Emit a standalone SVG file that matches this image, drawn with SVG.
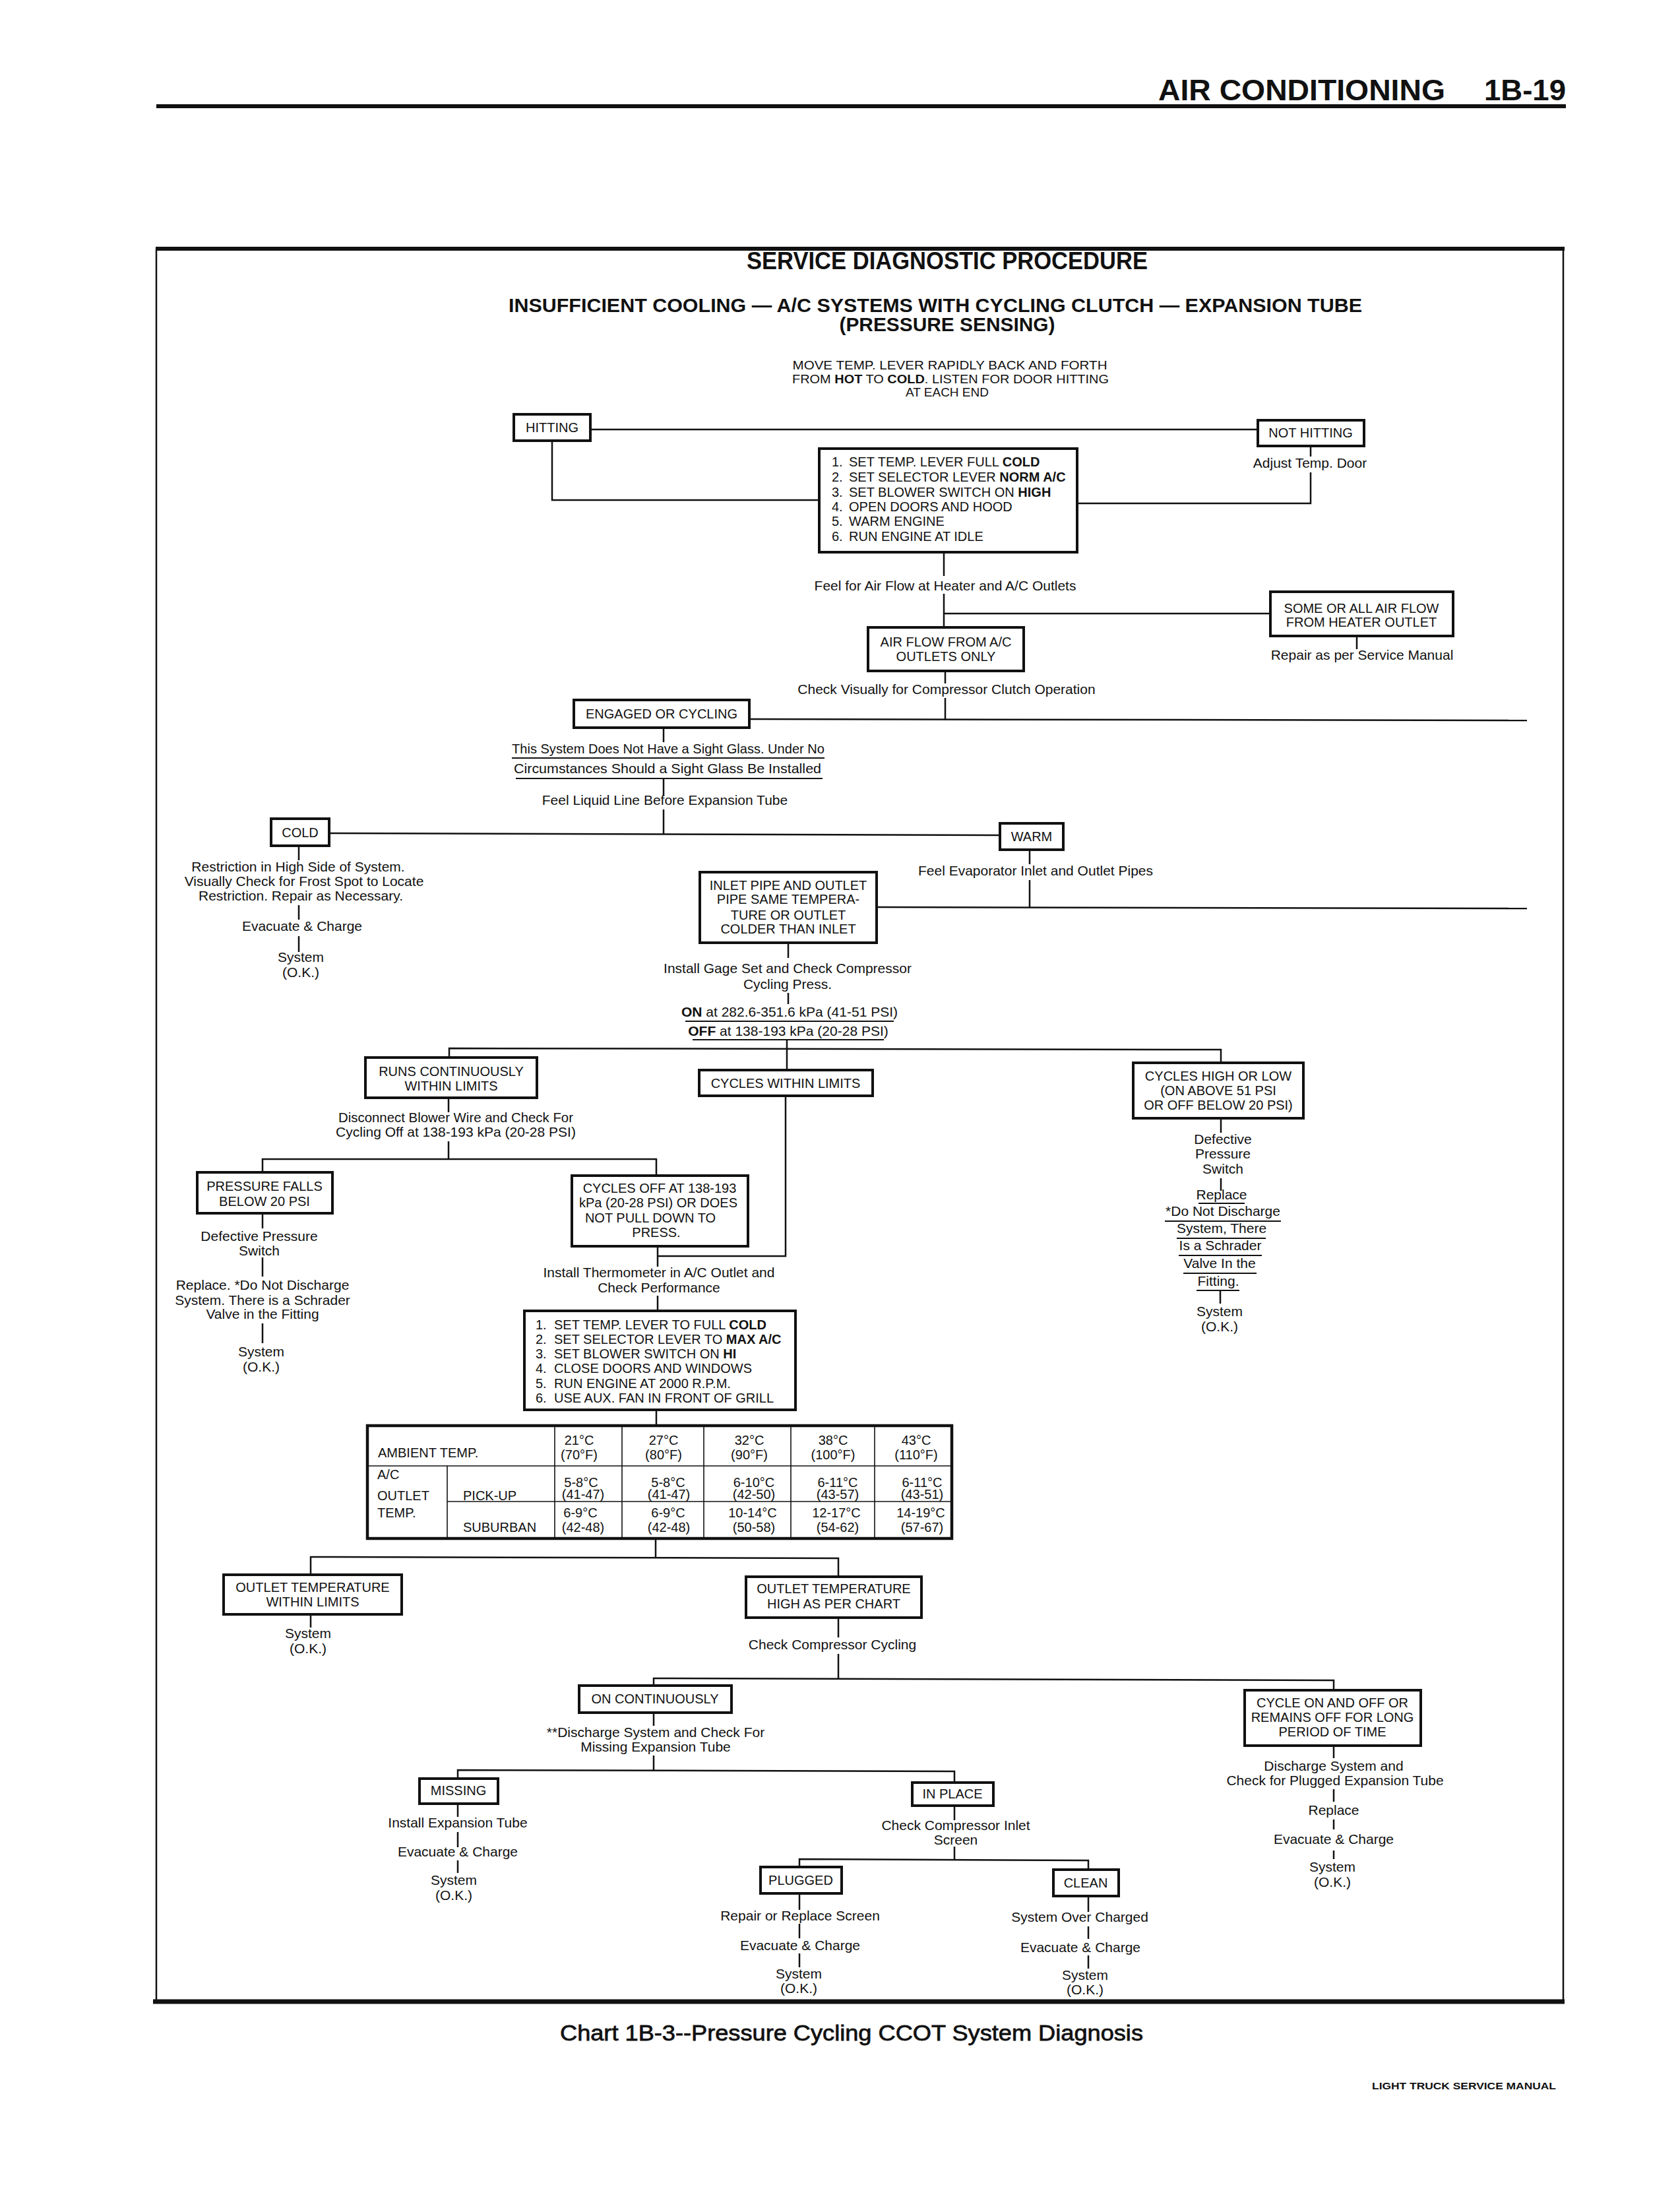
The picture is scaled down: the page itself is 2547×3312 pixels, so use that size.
<svg xmlns="http://www.w3.org/2000/svg" width="2547" height="3312" viewBox="0 0 2547 3312">
<style>
text{font-family:"Liberation Sans",Arial,Helvetica,sans-serif;fill:#111}
.t{font-size:21px;text-anchor:middle}
.b{font-size:20px;text-anchor:middle}
.bl{font-size:20px}
.tb{font-size:20px}
.box{fill:#fff;stroke:#111;stroke-width:4}
.c{stroke:#111;stroke-width:2.5;fill:none}
.u{stroke:#111;stroke-width:2;fill:none}
.g{stroke:#111;stroke-width:1.6;fill:none}
.bold{font-weight:bold}
</style>
<rect x="0" y="0" width="2547" height="3312" fill="#fff"/>

<g id="page-header">
<text x="1756" y="152" font-size="44" font-weight="bold" textLength="435" lengthAdjust="spacingAndGlyphs">AIR CONDITIONING</text>
<text x="2250" y="152" font-size="44" font-weight="bold" textLength="124" lengthAdjust="spacingAndGlyphs">1B-19</text>
<line x1="237" y1="161" x2="2374" y2="161" stroke="#111" stroke-width="6"/>
</g>

<g id="frame">
<line x1="236" y1="377" x2="2372" y2="377" stroke="#111" stroke-width="6"/>
<line x1="237" y1="377" x2="237" y2="3034" stroke="#111" stroke-width="2.5"/>
<line x1="2370" y1="377" x2="2370" y2="3034" stroke="#111" stroke-width="2.5"/>
<line x1="232" y1="3034" x2="2372" y2="3034" stroke="#111" stroke-width="7"/>
</g>

<g id="titles">
<text x="1436" y="408" font-size="36" font-weight="bold" text-anchor="middle" textLength="608" lengthAdjust="spacingAndGlyphs">SERVICE DIAGNOSTIC PROCEDURE</text>
<text x="1418" y="473" font-size="29" font-weight="bold" text-anchor="middle" textLength="1294" lengthAdjust="spacingAndGlyphs">INSUFFICIENT COOLING — A/C SYSTEMS WITH CYCLING CLUTCH — EXPANSION TUBE</text>
<text x="1436" y="502" font-size="29" font-weight="bold" text-anchor="middle" textLength="327" lengthAdjust="spacingAndGlyphs">(PRESSURE SENSING)</text>
</g>

<g id="start">
<text x="1440" y="560" font-size="19" text-anchor="middle" textLength="477" lengthAdjust="spacingAndGlyphs">MOVE TEMP. LEVER RAPIDLY BACK AND FORTH</text>
<text x="1441" y="581" font-size="19" text-anchor="middle" textLength="480" lengthAdjust="spacingAndGlyphs">FROM <tspan class="bold">HOT</tspan> TO <tspan class="bold">COLD</tspan>. LISTEN FOR DOOR HITTING</text>
<text x="1436" y="601" font-size="19" text-anchor="middle">AT EACH END</text>
</g>

<g id="connectors">
<path class="c" d="M895 651 H1907"/>
<path class="c" d="M837 668 V758 H1242"/>
<path class="c" d="M1987 676 V692 M1987 716 V763 H1633"/>
<path class="c" d="M1431 837 V873 M1431 900 V951 M1431 930 H1926"/>
<path class="c" d="M2057 964 V984"/>
<path class="c" d="M1433 1017 V1036 M1433 1058 V1091"/>
<path class="c" d="M1136 1090 L2315 1092"/>
<path class="c" d="M1006 1103 V1125 M1006 1181 V1206 M1006 1227 V1264"/>
<path class="c" d="M499 1263 L1516 1266"/>
<path class="c" d="M453 1282 V1304 M453 1372 V1394 M453 1419 V1443"/>
<path class="c" d="M1561 1288 V1310 M1561 1334 V1375"/>
<path class="c" d="M1329 1375 L2315 1377"/>
<path class="c" d="M1195 1429 V1452 M1195 1505 V1522"/>
<path class="c" d="M1193 1577 V1622"/>
<path class="c" d="M681 1603 V1589 L1851 1591 V1611"/>
<path class="c" d="M680 1664 V1686 M680 1730 V1757"/>
<path class="c" d="M398 1777 V1757 H995 V1782"/>
<path class="c" d="M1191 1661 V1904 H997"/>
<path class="c" d="M997 1889 V1920 M997 1964 V1987"/>
<path class="c" d="M398 1839 V1862 M398 1906 V1935 M398 2006 V2036"/>
<path class="c" d="M1851 1695 V1717 M1851 1786 V1805 M1850 1957 V1976"/>
<path class="c" d="M995 2137 V2161"/>
<path class="c" d="M994 2332 V2360"/>
<path class="c" d="M471 2387 V2360 L1271 2362 V2390"/>
<path class="c" d="M471 2447 V2467"/>
<path class="c" d="M1271 2452 V2482 M1271 2507 V2544"/>
<path class="c" d="M991 2555 V2544 L2022 2547 V2562"/>
<path class="c" d="M991 2596 V2616 M991 2661 V2683"/>
<path class="c" d="M694 2696 V2683 L1447 2685 V2702"/>
<path class="c" d="M694 2734 V2754 M694 2777 V2800 M694 2820 V2839"/>
<path class="c" d="M1447 2737 V2759 M1447 2799 V2818"/>
<path class="c" d="M1212 2830 V2818 L1650 2820 V2834"/>
<path class="c" d="M1212 2870 V2895 M1212 2916 V2938 M1212 2961 V2982"/>
<path class="c" d="M1650 2874 V2898 M1650 2920 V2939 M1650 2964 V2984"/>
<path class="c" d="M2022 2646 V2665 M2022 2712 V2731 M2022 2758 V2773 M2022 2805 V2818"/>
</g>

<g id="n-hitting"><rect class="box" x="779" y="628" width="116" height="40"/><text class="b" x="837" y="655">HITTING</text></g>
<g id="n-not-hitting"><rect class="box" x="1907" y="637" width="161" height="39"/><text class="b" x="1987" y="663">NOT HITTING</text></g>
<g id="n-adjust"><text class="t" x="1986" y="709">Adjust Temp. Door</text></g>

<g id="n-steps1">
<rect class="box" x="1242" y="680" width="391" height="157"/>
<text class="bl" x="1261" y="707">1.</text><text class="bl" x="1287" y="707">SET TEMP. LEVER FULL <tspan class="bold">COLD</tspan></text>
<text class="bl" x="1261" y="730">2.</text><text class="bl" x="1287" y="730">SET SELECTOR LEVER <tspan class="bold">NORM A/C</tspan></text>
<text class="bl" x="1261" y="753">3.</text><text class="bl" x="1287" y="753">SET BLOWER SWITCH ON <tspan class="bold">HIGH</tspan></text>
<text class="bl" x="1261" y="775">4.</text><text class="bl" x="1287" y="775">OPEN DOORS AND HOOD</text>
<text class="bl" x="1261" y="797">5.</text><text class="bl" x="1287" y="797">WARM ENGINE</text>
<text class="bl" x="1261" y="820">6.</text><text class="bl" x="1287" y="820">RUN ENGINE AT IDLE</text>
</g>

<g id="n-feel-airflow"><text class="t" x="1433" y="895">Feel for Air Flow at Heater and A/C Outlets</text></g>
<g id="n-some-air"><rect class="box" x="1926" y="897" width="277" height="67"/><text class="b" x="2064" y="929">SOME OR ALL AIR FLOW</text><text class="b" x="2064" y="950">FROM HEATER OUTLET</text></g>
<g id="n-repair-manual"><text class="t" x="2065" y="1000">Repair as per Service Manual</text></g>
<g id="n-airflow-ac"><rect class="box" x="1316" y="951" width="236" height="66"/><text class="b" x="1434" y="980">AIR FLOW FROM A/C</text><text class="b" x="1434" y="1002">OUTLETS ONLY</text></g>
<g id="n-check-clutch"><text class="t" x="1435" y="1052">Check Visually for Compressor Clutch Operation</text></g>
<g id="n-engaged"><rect class="box" x="870" y="1061" width="266" height="42"/><text class="b" x="1003" y="1089">ENGAGED OR CYCLING</text></g>

<g id="n-sight-glass">
<text class="t" x="1013" y="1142" textLength="474" lengthAdjust="spacingAndGlyphs">This System Does Not Have a Sight Glass. Under No</text>
<line class="u" x1="776" y1="1149" x2="1250" y2="1149"/>
<text class="t" x="1012" y="1172" textLength="466" lengthAdjust="spacingAndGlyphs">Circumstances Should a Sight Glass Be Installed</text>
<line class="u" x1="782" y1="1180" x2="1247" y2="1180"/>
</g>
<g id="n-feel-liquid"><text class="t" x="1008" y="1220">Feel Liquid Line Before Expansion Tube</text></g>

<g id="n-cold"><rect class="box" x="411" y="1241" width="88" height="41"/><text class="b" x="455" y="1269">COLD</text></g>
<g id="n-warm"><rect class="box" x="1516" y="1248" width="96" height="40"/><text class="b" x="1564" y="1275">WARM</text></g>

<g id="n-restriction">
<text class="t" x="452" y="1321">Restriction in High Side of System.</text>
<text class="t" x="461" y="1343">Visually Check for Frost Spot to Locate</text>
<text class="t" x="456" y="1365">Restriction. Repair as Necessary.</text>
<text class="t" x="458" y="1411">Evacuate &amp; Charge</text>
<text class="t" x="456" y="1458">System</text>
<text class="t" x="456" y="1481">(O.K.)</text>
</g>

<g id="n-feel-evap"><text class="t" x="1570" y="1327">Feel Evaporator Inlet and Outlet Pipes</text></g>
<g id="n-inlet-pipe"><rect class="box" x="1061" y="1322" width="268" height="107"/>
<text class="b" x="1195" y="1349">INLET PIPE AND OUTLET</text>
<text class="b" x="1195" y="1370">PIPE SAME TEMPERA-</text>
<text class="b" x="1195" y="1394">TURE OR OUTLET</text>
<text class="b" x="1195" y="1415">COLDER THAN INLET</text></g>

<g id="n-gage">
<text class="t" x="1194" y="1475">Install Gage Set and Check Compressor</text>
<text class="t" x="1194" y="1499">Cycling Press.</text>
<text class="t" x="1197" y="1541"><tspan class="bold">ON</tspan> at 282.6-351.6 kPa (41-51 PSI)</text>
<line class="u" x1="1039" y1="1548" x2="1355" y2="1548"/>
<text class="t" x="1195" y="1570"><tspan class="bold">OFF</tspan> at 138-193 kPa (20-28 PSI)</text>
<line class="u" x1="1050" y1="1576" x2="1340" y2="1576"/>
</g>

<g id="n-runs-cont"><rect class="box" x="554" y="1603" width="260" height="61"/><text class="b" x="684" y="1631">RUNS CONTINUOUSLY</text><text class="b" x="684" y="1653">WITHIN LIMITS</text></g>
<g id="n-cycles-within"><rect class="box" x="1060" y="1622" width="263" height="39"/><text class="b" x="1191" y="1649">CYCLES WITHIN LIMITS</text></g>
<g id="n-cycles-high"><rect class="box" x="1718" y="1611" width="258" height="84"/>
<text class="b" x="1847" y="1638">CYCLES HIGH OR LOW</text>
<text class="b" x="1847" y="1660">(ON ABOVE 51 PSI</text>
<text class="b" x="1847" y="1682">OR OFF BELOW 20 PSI)</text></g>

<g id="n-disconnect">
<text class="t" x="691" y="1701" textLength="356" lengthAdjust="spacingAndGlyphs">Disconnect Blower Wire and Check For</text>
<text class="t" x="691" y="1723">Cycling Off at 138-193 kPa (20-28 PSI)</text>
</g>

<g id="n-pressure-falls"><rect class="box" x="299" y="1777" width="205" height="62"/><text class="b" x="401" y="1805">PRESSURE FALLS</text><text class="b" x="401" y="1828">BELOW 20 PSI</text></g>
<g id="n-cycles-off"><rect class="box" x="867" y="1782" width="267" height="107"/>
<text class="b" x="1000" y="1808">CYCLES OFF AT 138-193</text>
<text class="b" x="998" y="1830">kPa (20-28 PSI) OR DOES</text>
<text class="b" x="986" y="1853">NOT PULL DOWN TO</text>
<text class="b" x="995" y="1875">PRESS.</text></g>

<g id="n-defective-left">
<text class="t" x="393" y="1881">Defective Pressure</text>
<text class="t" x="393" y="1903">Switch</text>
<text class="t" x="398" y="1955">Replace. *Do Not Discharge</text>
<text class="t" x="398" y="1978">System. There is a Schrader</text>
<text class="t" x="398" y="1999">Valve in the Fitting</text>
<text class="t" x="396" y="2056">System</text>
<text class="t" x="396" y="2079">(O.K.)</text>
</g>

<g id="n-thermometer">
<text class="t" x="999" y="1936">Install Thermometer in A/C Outlet and</text>
<text class="t" x="999" y="1959">Check Performance</text>
</g>

<g id="n-steps2">
<rect class="box" x="795" y="1987" width="411" height="150"/>
<text class="bl" x="812" y="2015">1.</text><text class="bl" x="840" y="2015">SET TEMP. LEVER TO FULL <tspan class="bold">COLD</tspan></text>
<text class="bl" x="812" y="2037">2.</text><text class="bl" x="840" y="2037">SET SELECTOR LEVER TO <tspan class="bold">MAX A/C</tspan></text>
<text class="bl" x="812" y="2059">3.</text><text class="bl" x="840" y="2059">SET BLOWER SWITCH ON <tspan class="bold">HI</tspan></text>
<text class="bl" x="812" y="2081">4.</text><text class="bl" x="840" y="2081">CLOSE DOORS AND WINDOWS</text>
<text class="bl" x="812" y="2104">5.</text><text class="bl" x="840" y="2104">RUN ENGINE AT 2000 R.P.M.</text>
<text class="bl" x="812" y="2126">6.</text><text class="bl" x="840" y="2126">USE AUX. FAN IN FRONT OF GRILL</text>
</g>

<g id="n-defective-right">
<text class="t" x="1854" y="1734">Defective</text>
<text class="t" x="1854" y="1756">Pressure</text>
<text class="t" x="1854" y="1779">Switch</text>
<text class="t" x="1852" y="1818">Replace</text>
<line class="u" x1="1817" y1="1824" x2="1887" y2="1824"/>
<text class="t" x="1854" y="1843">*Do Not Discharge</text>
<line class="u" x1="1766" y1="1851" x2="1942" y2="1851"/>
<text class="t" x="1852" y="1869">System, There</text>
<line class="u" x1="1784" y1="1877" x2="1919" y2="1877"/>
<text class="t" x="1850" y="1895">Is a Schrader</text>
<line class="u" x1="1787" y1="1903" x2="1913" y2="1903"/>
<text class="t" x="1849" y="1922">Valve In the</text>
<line class="u" x1="1794" y1="1930" x2="1905" y2="1930"/>
<text class="t" x="1847" y="1949">Fitting.</text>
<line class="u" x1="1814" y1="1956" x2="1879" y2="1956"/>
<text class="t" x="1849" y="1995">System</text>
<text class="t" x="1849" y="2018">(O.K.)</text>
</g>

<g id="n-table">
<rect x="557" y="2161" width="886" height="171" fill="#fff" stroke="#111" stroke-width="4.5"/>
<path class="g" d="M557 2222 H1443 M678 2222 V2332 M841 2161 V2332 M943 2161 V2332 M1067 2161 V2332 M1199 2161 V2332 M1326 2161 V2332 M678 2276 H1443"/>
<text class="tb" x="573" y="2209">AMBIENT TEMP.</text>
<text class="b" x="878" y="2190">21°C</text><text class="b" x="878" y="2212">(70°F)</text>
<text class="b" x="1006" y="2190">27°C</text><text class="b" x="1006" y="2212">(80°F)</text>
<text class="b" x="1136" y="2190">32°C</text><text class="b" x="1136" y="2212">(90°F)</text>
<text class="b" x="1263" y="2190">38°C</text><text class="b" x="1263" y="2212">(100°F)</text>
<text class="b" x="1389" y="2190">43°C</text><text class="b" x="1389" y="2212">(110°F)</text>
<text class="tb" x="572" y="2242">A/C</text>
<text class="tb" x="572" y="2274">OUTLET</text>
<text class="tb" x="572" y="2300">TEMP.</text>
<text class="tb" x="702" y="2274">PICK-UP</text>
<text class="tb" x="702" y="2322">SUBURBAN</text>
<text class="b" x="881" y="2254">5-8°C</text><text class="b" x="884" y="2272">(41-47)</text>
<text class="b" x="1013" y="2254">5-8°C</text><text class="b" x="1014" y="2272">(41-47)</text>
<text class="b" x="1143" y="2254">6-10°C</text><text class="b" x="1143" y="2272">(42-50)</text>
<text class="b" x="1270" y="2254">6-11°C</text><text class="b" x="1270" y="2272">(43-57)</text>
<text class="b" x="1398" y="2254">6-11°C</text><text class="b" x="1398" y="2272">(43-51)</text>
<text class="b" x="880" y="2300">6-9°C</text><text class="b" x="884" y="2322">(42-48)</text>
<text class="b" x="1013" y="2300">6-9°C</text><text class="b" x="1014" y="2322">(42-48)</text>
<text class="b" x="1141" y="2300">10-14°C</text><text class="b" x="1143" y="2322">(50-58)</text>
<text class="b" x="1268" y="2300">12-17°C</text><text class="b" x="1270" y="2322">(54-62)</text>
<text class="b" x="1396" y="2300">14-19°C</text><text class="b" x="1398" y="2322">(57-67)</text>
</g>

<g id="n-outlet-within"><rect class="box" x="339" y="2387" width="270" height="60"/><text class="b" x="474" y="2413">OUTLET TEMPERATURE</text><text class="b" x="474" y="2435">WITHIN LIMITS</text></g>
<g id="n-ok-outlet"><text class="t" x="467" y="2483">System</text><text class="t" x="467" y="2506">(O.K.)</text></g>
<g id="n-outlet-high"><rect class="box" x="1131" y="2390" width="266" height="62"/><text class="b" x="1264" y="2415">OUTLET TEMPERATURE</text><text class="b" x="1264" y="2438">HIGH AS PER CHART</text></g>
<g id="n-check-cycling"><text class="t" x="1262" y="2500">Check Compressor Cycling</text></g>

<g id="n-on-cont"><rect class="box" x="878" y="2555" width="231" height="41"/><text class="b" x="993" y="2582">ON CONTINUOUSLY</text></g>
<g id="n-cycle-onoff"><rect class="box" x="1887" y="2562" width="267" height="84"/>
<text class="b" x="2020" y="2588">CYCLE ON AND OFF OR</text>
<text class="b" x="2020" y="2610">REMAINS OFF FOR LONG</text>
<text class="b" x="2020" y="2632">PERIOD OF TIME</text></g>
<g id="n-plugged-tube">
<text class="t" x="2022" y="2684">Discharge System and</text>
<text class="t" x="2024" y="2706">Check for Plugged Expansion Tube</text>
<text class="t" x="2022" y="2751">Replace</text>
<text class="t" x="2022" y="2795">Evacuate &amp; Charge</text>
<text class="t" x="2020" y="2837">System</text>
<text class="t" x="2020" y="2860">(O.K.)</text>
</g>

<g id="n-discharge-missing">
<text class="t" x="994" y="2633">**Discharge System and Check For</text>
<text class="t" x="994" y="2655">Missing Expansion Tube</text>
</g>
<g id="n-missing"><rect class="box" x="636" y="2696" width="119" height="38"/><text class="b" x="695" y="2721">MISSING</text></g>
<g id="n-in-place"><rect class="box" x="1383" y="2702" width="123" height="35"/><text class="b" x="1444" y="2726">IN PLACE</text></g>
<g id="n-install-tube">
<text class="t" x="694" y="2770">Install Expansion Tube</text>
<text class="t" x="694" y="2814">Evacuate &amp; Charge</text>
<text class="t" x="688" y="2857">System</text>
<text class="t" x="688" y="2880">(O.K.)</text>
</g>
<g id="n-inlet-screen"><text class="t" x="1449" y="2774">Check Compressor Inlet</text><text class="t" x="1449" y="2796">Screen</text></g>
<g id="n-plugged"><rect class="box" x="1153" y="2830" width="123" height="40"/><text class="b" x="1214" y="2857">PLUGGED</text></g>
<g id="n-clean"><rect class="box" x="1597" y="2834" width="99" height="40"/><text class="b" x="1646" y="2861">CLEAN</text></g>
<g id="n-repair-screen">
<text class="t" x="1213" y="2911">Repair or Replace Screen</text>
<text class="t" x="1213" y="2956">Evacuate &amp; Charge</text>
<text class="t" x="1211" y="2999">System</text>
<text class="t" x="1211" y="3021">(O.K.)</text>
</g>
<g id="n-overcharged">
<text class="t" x="1637" y="2913">System Over Charged</text>
<text class="t" x="1638" y="2959">Evacuate &amp; Charge</text>
<text class="t" x="1645" y="3001">System</text>
<text class="t" x="1645" y="3023">(O.K.)</text>
</g>

<g id="caption">
<text x="849" y="3093" font-size="34" stroke="#111" stroke-width="0.8" textLength="884" lengthAdjust="spacingAndGlyphs">Chart 1B-3--Pressure Cycling CCOT System Diagnosis</text>
<text x="2080" y="3167" font-size="15" font-weight="bold" textLength="279" lengthAdjust="spacingAndGlyphs">LIGHT TRUCK SERVICE MANUAL</text>
</g>
</svg>
